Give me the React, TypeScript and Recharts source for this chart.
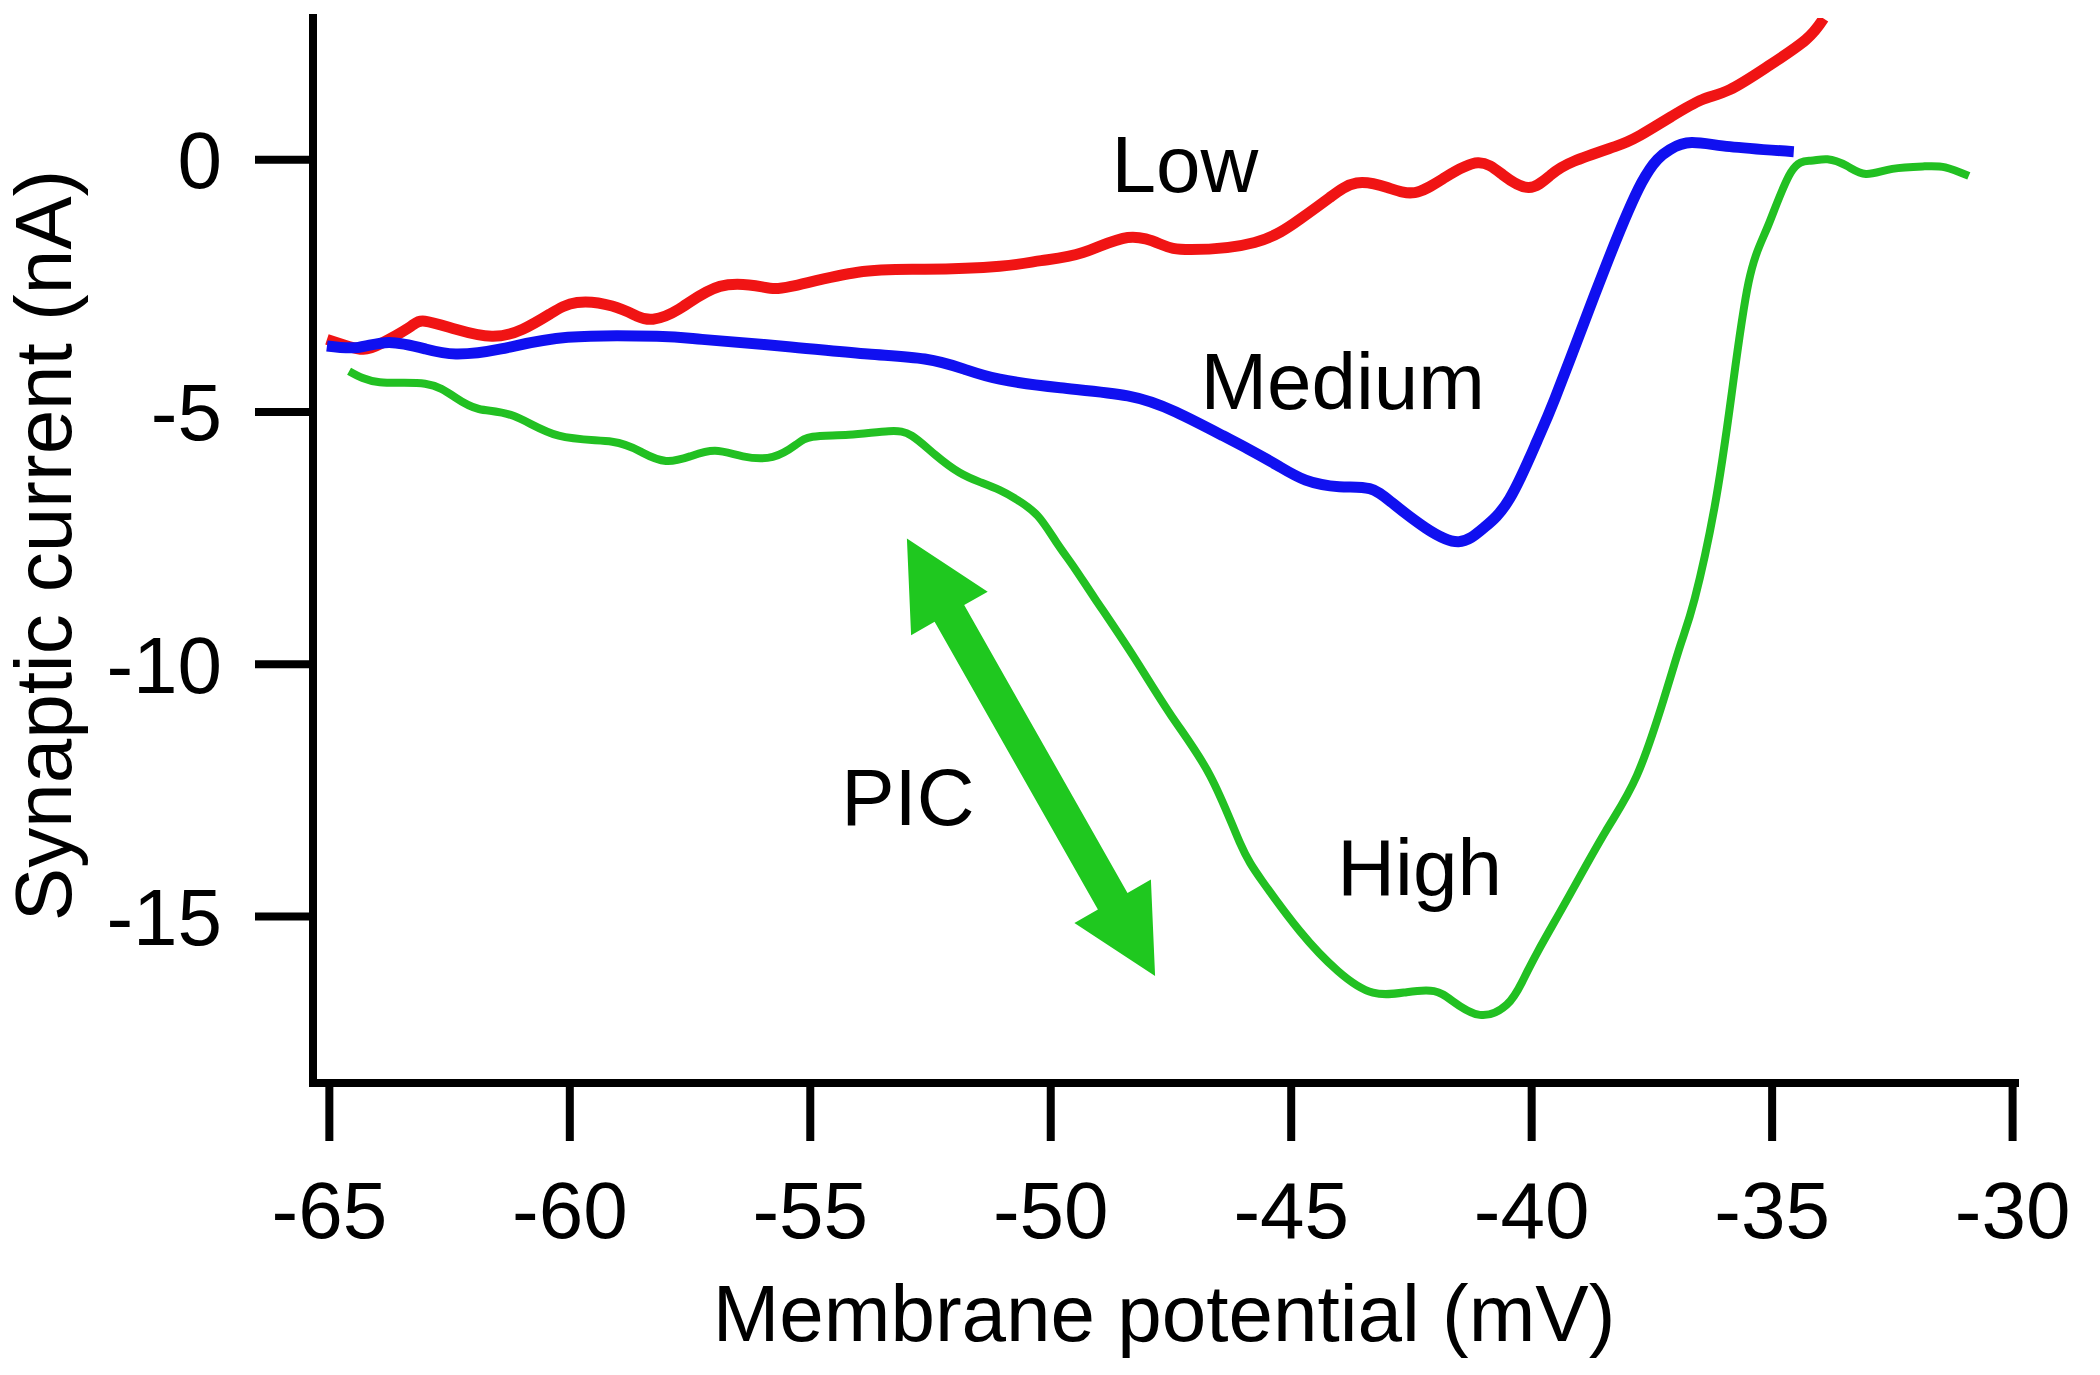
import {
  LineChart,
  Line,
  XAxis,
  YAxis,
  ReferenceLine,
  ReferenceDot,
} from 'recharts';

// membrane potential (mV), synaptic current (nA)
const lowTrace: [number, number][] = [
  [-65.05, -3.56], [-64.6, -3.7], [-64.22, -3.75], [-63.76, -3.56], [-63.3, -3.3],
  [-63.01, -3.2], [-62.37, -3.36], [-61.62, -3.5], [-60.98, -3.36], [-60.4, -3.05],
  [-59.85, -2.83], [-59.12, -2.9], [-58.6, -3.1], [-58.27, -3.16], [-57.73, -2.96],
  [-56.88, -2.51], [-56.0, -2.52], [-55.4, -2.51], [-54.01, -2.23], [-52.62, -2.17],
  [-51.06, -2.11], [-50.2, -2.0], [-49.33, -1.84], [-48.4, -1.54], [-47.7, -1.68],
  [-47.09, -1.78], [-45.76, -1.64], [-44.82, -1.18], [-44.2, -0.75], [-43.64, -0.46],
  [-43.0, -0.55], [-42.43, -0.65], [-41.8, -0.35], [-41.12, -0.06], [-40.6, -0.3],
  [-40.06, -0.55], [-39.6, -0.3], [-39.12, -0.03], [-38.27, 0.26], [-37.79, 0.46],
  [-37.09, 0.86], [-36.46, 1.19], [-35.88, 1.39], [-35.09, 1.85], [-34.3, 2.38],
  [-33.93, 2.8],
];

const mediumTrace: [number, number][] = [
  [-65.05, -3.69], [-64.4, -3.72], [-63.76, -3.62], [-63.0, -3.75], [-62.37, -3.85],
  [-61.43, -3.75], [-60.04, -3.52], [-58.19, -3.5], [-57.25, -3.56], [-55.4, -3.71],
  [-53.8, -3.85], [-52.62, -3.95], [-51.8, -4.15], [-51.06, -4.35], [-49.8, -4.52],
  [-48.4, -4.68], [-47.4, -5.0], [-46.42, -5.47], [-45.9, -5.73], [-45.3, -6.05],
  [-44.7, -6.35], [-44.0, -6.48], [-43.37, -6.52], [-42.9, -6.8], [-42.2, -7.3],
  [-41.52, -7.57], [-41.0, -7.3], [-40.46, -6.72], [-39.9, -5.6], [-39.52, -4.74],
  [-38.9, -3.2], [-38.46, -2.11], [-37.71, -0.45], [-37.13, 0.2], [-36.67, 0.34],
  [-35.88, 0.26], [-34.55, 0.16],
];

const highTrace: [number, number][] = [
  [-64.59, -4.19], [-63.95, -4.41], [-63.01, -4.44], [-62.4, -4.7], [-61.89, -4.94],
  [-61.16, -5.08], [-60.23, -5.47], [-59.12, -5.59], [-58.5, -5.8], [-58.0, -5.97],
  [-57.5, -5.88], [-56.98, -5.77], [-56.4, -5.88], [-55.78, -5.89], [-55.3, -5.65],
  [-54.95, -5.49], [-54.2, -5.45], [-53.37, -5.38], [-52.89, -5.47], [-52.4, -5.85],
  [-51.9, -6.2], [-51.47, -6.39], [-51.06, -6.55], [-50.68, -6.75], [-50.27, -7.06],
  [-49.89, -7.57], [-49.5, -8.1], [-49.08, -8.7], [-48.29, -9.83], [-47.5, -11.01],
  [-46.69, -12.2], [-46.07, -13.53], [-45.6, -14.3], [-44.82, -15.29], [-44.03, -16.08],
  [-43.3, -16.51], [-42.6, -16.5], [-42.03, -16.48], [-41.64, -16.68], [-41.08, -16.95],
  [-40.52, -16.75], [-40.2, -16.3], [-39.87, -15.69], [-39.25, -14.64], [-38.46, -13.31],
  [-37.81, -12.2], [-37.25, -10.68], [-36.9, -9.6], [-36.61, -8.7], [-36.2, -6.9],
  [-35.85, -4.7], [-35.49, -2.43], [-35.09, -1.32], [-34.61, -0.25], [-34.2, -0.02],
  [-33.85, 0.01], [-33.45, -0.12], [-33.05, -0.28], [-32.5, -0.18], [-31.83, -0.13],
  [-31.4, -0.15], [-30.91, -0.32],
];

const xTicks = [-65, -60, -55, -50, -45, -40, -35, -30];
const yTicks = [-15, -10, -5, 0];

const traceLabels = [
  { text: 'Low', v: -47.21, i: -0.63 },
  { text: 'Medium', v: -43.93, i: -4.94 },
  { text: 'High', v: -42.33, i: -14.57 },
  { text: 'PIC', v: -52.97, i: -13.19 },
];

// double headed arrow ends (mV, nA)
const picArrow = [
  { x: -52.99, y: -7.51 },
  { x: -47.83, y: -16.18 },
];

const FONT = '"Liberation Sans", Arial, Helvetica, sans-serif';

const toPoints = (trace: [number, number][]) => trace.map(([v, i]) => ({ v, i }));

function ArrowShape(props: any) {
  const { x1, y1, x2, y2 } = props;
  const dx = x2 - x1;
  const dy = y2 - y1;
  const len = Math.hypot(dx, dy) || 1;
  const ux = dx / len;
  const uy = dy / len;
  const px = -uy;
  const py = ux;
  const head = 86;
  const hw = 44;
  const sw = 17;
  const pt = (x: number, y: number) => `${x.toFixed(1)},${y.toFixed(1)}`;
  const pts = [
    pt(x1, y1),
    pt(x1 + ux * head + px * hw, y1 + uy * head + py * hw),
    pt(x1 + ux * head + px * sw, y1 + uy * head + py * sw),
    pt(x2 - ux * head + px * sw, y2 - uy * head + py * sw),
    pt(x2 - ux * head + px * hw, y2 - uy * head + py * hw),
    pt(x2, y2),
    pt(x2 - ux * head - px * hw, y2 - uy * head - py * hw),
    pt(x2 - ux * head - px * sw, y2 - uy * head - py * sw),
    pt(x1 + ux * head - px * sw, y1 + uy * head - py * sw),
    pt(x1 + ux * head - px * hw, y1 + uy * head - py * hw),
  ];
  return <polygon points={pts.join(' ')} fill="#1fc81f" />;
}

export default function App() {
  return (
    <div style={{ position: 'absolute', left: 0, top: 0, background: '#fff' }}>
      <LineChart
        width={2100}
        height={1375}
        margin={{ top: 18, right: 85, bottom: 0, left: 0 }}
      >
        <XAxis
          type="number"
          dataKey="v"
          domain={[-65.34, -29.95]}
          ticks={xTicks}
          allowDataOverflow
          height={292}
          axisLine={{ stroke: '#000', strokeWidth: 8, strokeLinecap: 'square' }}
          tickLine={{ stroke: '#000', strokeWidth: 8 }}
          tickSize={58}
          tickMargin={40}
          tick={{ fill: '#000', fontSize: 80, fontFamily: FONT }}
          label={{
            content: (p: any) => {
              const vb = p.viewBox || {};
              return (
                <text
                  x={vb.x + vb.width / 2}
                  y={vb.y + 258}
                  textAnchor="middle"
                  fontSize={80}
                  fontFamily={FONT}
                  fill="#000"
                >
                  Membrane potential (mV)
                </text>
              );
            },
          }}
        />
        <YAxis
          type="number"
          domain={[-18.3, 2.81]}
          ticks={yTicks}
          allowDataOverflow
          width={313}
          axisLine={{ stroke: '#000', strokeWidth: 8, strokeLinecap: 'square' }}
          tickLine={{ stroke: '#000', strokeWidth: 8 }}
          tickSize={58}
          tickMargin={33}
          tick={{ fill: '#000', fontSize: 80, fontFamily: FONT }}
          label={{
            content: (p: any) => {
              const vb = p.viewBox || {};
              const cy = vb.y + vb.height / 2 - 5;
              return (
                <text
                  x={71}
                  y={cy}
                  transform={`rotate(-90, 71, ${cy})`}
                  textAnchor="middle"
                  fontSize={80}
                  fontFamily={FONT}
                  fill="#000"
                >
                  Synaptic current (nA)
                </text>
              );
            },
          }}
        />

        <Line
          data={toPoints(lowTrace)}
          dataKey="i"
          type="natural"
          stroke="#f01414"
          strokeWidth={11}
          dot={false}
          isAnimationActive={false}
        />
        <Line
          data={toPoints(mediumTrace)}
          dataKey="i"
          type="natural"
          stroke="#1010f0"
          strokeWidth={11}
          dot={false}
          isAnimationActive={false}
        />
        <Line
          data={toPoints(highTrace)}
          dataKey="i"
          type="natural"
          stroke="#22c022"
          strokeWidth={8}
          dot={false}
          isAnimationActive={false}
        />

        <ReferenceLine segment={picArrow} ifOverflow="visible" shape={ArrowShape} />

        {traceLabels.map((lab) => (
          <ReferenceDot
            key={lab.text}
            x={lab.v}
            y={lab.i}
            r={0}
            ifOverflow="visible"
            shape={(p: any) => (
              <text
                x={p.cx}
                y={p.cy}
                textAnchor="middle"
                fontSize={80}
                fontFamily={FONT}
                fill="#000"
              >
                {lab.text}
              </text>
            )}
          />
        ))}
      </LineChart>
    </div>
  );
}
